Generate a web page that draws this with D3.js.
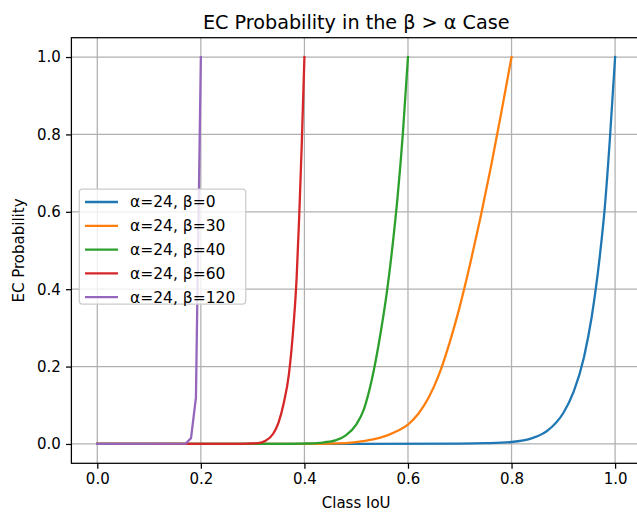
<!DOCTYPE html>
<html>
<head>
<meta charset="utf-8">
<script src="https://cdn.jsdelivr.net/npm/d3@7"></script>
<style>
  body { margin: 0; background: #fff; }
  svg { display: block; font-family: "DejaVu Sans", sans-serif; }
</style>
</head>
<body>
<div id="chart"></div>
<script>
// values
var xTicks = [0.0, 0.2, 0.4, 0.6, 0.8, 1.0];
var yTicks = [0.0, 0.2, 0.4, 0.6, 0.8, 1.0];

var labels = ["α=24, β=0", "α=24, β=30", "α=24, β=40", "α=24, β=60", "α=24, β=120"];

var blueX = [0, 0.5, 0.7, 0.75, 0.8, 0.84, 0.87, 0.9, 0.92, 0.94, 0.955, 0.97, 0.98, 0.99, 1.0];
var blueY = [0, 0, 0.001, 0.002, 0.005, 0.015, 0.035, 0.08, 0.135, 0.225, 0.33, 0.48, 0.61, 0.79, 1.0];

var orangeX = [0, 0.4, 0.45, 0.5, 0.53, 0.56, 0.58, 0.6, 0.62, 0.64, 0.66, 0.68, 0.7, 0.72, 0.74, 0.76, 0.78, 0.8];
var orangeY = [0, 0, 0.001, 0.005, 0.011, 0.022, 0.034, 0.05, 0.078, 0.12, 0.18, 0.26, 0.355, 0.465, 0.585, 0.715, 0.855, 1.0];

var greenX = [0, 0.35, 0.4, 0.43, 0.46, 0.48, 0.5, 0.515, 0.53, 0.545, 0.56, 0.57, 0.58, 0.59, 0.6];
var greenY = [0, 0, 0.001, 0.003, 0.009, 0.022, 0.05, 0.09, 0.165, 0.27, 0.4, 0.51, 0.64, 0.8, 1.0];

var redX = [0, 0.25, 0.29, 0.31, 0.325, 0.34, 0.35, 0.36, 0.37, 0.378, 0.385, 0.39, 0.395, 0.4];
var redY = [0, 0, 0.001, 0.002, 0.008, 0.027, 0.055, 0.105, 0.18, 0.29, 0.43, 0.59, 0.78, 1.0];

var purpleX = [0, 0.171, 0.181, 0.1905, 0.2];
var purpleY = [0, 0.001, 0.015, 0.12, 1.0];

var colors = ["#1f77b4", "#ff7f0e", "#2ca02c", "#d62728", "#9467bd"];

(function() {
	var W = 637, H = 512;
	var left = 71.4, right = 641, plotTop = 37.7, plotBottom = 463.3;

	var series = [
		{ xs: blueX, ys: blueY, smooth: true },
		{ xs: orangeX, ys: orangeY, smooth: true },
		{ xs: greenX, ys: greenY, smooth: true },
		{ xs: redX, ys: redY, smooth: true },
		{ xs: purpleX, ys: purpleY, smooth: false }
	];

	var x = d3.scaleLinear().domain([-0.05, 1.05]).range([left, right]);
	var y = d3.scaleLinear().domain([-0.05, 1.05]).range([plotBottom, plotTop]);

	var svg = d3.select("#chart").append("svg")
		.attr("width", W)
		.attr("height", H);

	svg.append("defs").append("clipPath").attr("id", "plot-clip")
		.append("rect")
		.attr("x", left).attr("y", plotTop)
		.attr("width", right - left).attr("height", plotBottom - plotTop);

	// grid
	var grid = svg.append("g").attr("class", "grid");
	grid.selectAll(".gx").data(xTicks).enter().append("line")
		.attr("x1", function(d) { return x(d); })
		.attr("x2", function(d) { return x(d); })
		.attr("y1", plotTop).attr("y2", plotBottom)
		.attr("stroke", "#b0b0b0").attr("stroke-width", 1.25);
	grid.selectAll(".gy").data(yTicks).enter().append("line")
		.attr("y1", function(d) { return y(d); })
		.attr("y2", function(d) { return y(d); })
		.attr("x1", left).attr("x2", right)
		.attr("stroke", "#b0b0b0").attr("stroke-width", 1.25);

	// curves
	var plot = svg.append("g").attr("clip-path", "url(#plot-clip)");
	series.forEach(function(s, i) {
		var pts = s.xs.map(function(v, j) { return [v, s.ys[j]]; });
		var line = d3.line()
			.x(function(d) { return x(d[0]); })
			.y(function(d) { return y(d[1]); })
			.curve(s.smooth ? d3.curveMonotoneX : d3.curveLinear);
		plot.append("path")
			.datum(pts)
			.attr("d", line)
			.attr("fill", "none")
			.attr("stroke", colors[i])
			.attr("stroke-width", 2.3)
			.attr("stroke-linejoin", "round")
			.attr("stroke-linecap", "square");
	});

	// axes
	var xAxis = svg.append("g")
		.attr("transform", "translate(0," + plotBottom + ")")
		.call(d3.axisBottom(x).tickValues(xTicks).tickFormat(d3.format(".1f"))
			.tickSize(5.4).tickPadding(4.6));
	var yAxis = svg.append("g")
		.attr("transform", "translate(" + left + ",0)")
		.call(d3.axisLeft(y).tickValues(yTicks).tickFormat(d3.format(".1f"))
			.tickSize(5.4).tickPadding(5.2));
	[xAxis, yAxis].forEach(function(a) {
		a.select(".domain").remove();
		a.selectAll(".tick line").attr("stroke", "#000").attr("stroke-width", 1.25);
		a.selectAll(".tick text").attr("fill", "#000")
			.style("font-size", "15px").style("font-family", "DejaVu Sans");
	});

	// frame
	svg.append("rect")
		.attr("x", left).attr("y", plotTop)
		.attr("width", right - left).attr("height", plotBottom - plotTop)
		.attr("fill", "none").attr("stroke", "#000").attr("stroke-width", 1.25);

	// labels
	svg.append("text")
		.attr("x", (left + right) / 2).attr("y", 28.5)
		.attr("text-anchor", "middle")
		.style("font-size", "19.2px")
		.text("EC Probability in the β > α Case");

	svg.append("text")
		.attr("x", (left + right) / 2).attr("y", 507.5)
		.attr("text-anchor", "middle")
		.style("font-size", "15px")
		.text("Class IoU");

	svg.append("text")
		.attr("transform", "translate(24," + ((plotTop + plotBottom) / 2) + ") rotate(-90)")
		.attr("text-anchor", "middle")
		.style("font-size", "15px")
		.text("EC Probability");

	// legend
	var lg = svg.append("g");
	lg.append("rect")
		.attr("x", 79.3).attr("y", 189)
		.attr("width", 166.4).attr("height", 115)
		.attr("rx", 3).attr("ry", 3)
		.attr("fill", "#fff").attr("fill-opacity", 0.8)
		.attr("stroke", "#cccccc").attr("stroke-width", 1.25);

	labels.forEach(function(t, i) {
		var cy = 202 + i * 23.8;
		lg.append("line")
			.attr("x1", 85).attr("x2", 118)
			.attr("y1", cy).attr("y2", cy)
			.attr("stroke", colors[i]).attr("stroke-width", 2.3);
		lg.append("text")
			.attr("x", 130).attr("y", cy + 5.4)
			.style("font-size", "15.5px")
			.text(t);
	});
})();
</script>
</body>
</html>
